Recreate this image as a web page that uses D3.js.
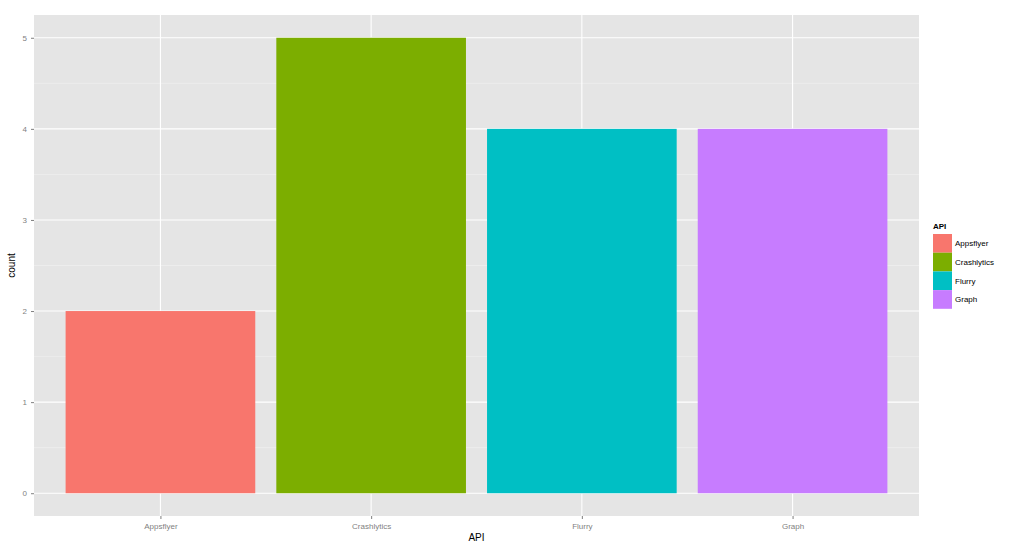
<!DOCTYPE html>
<html><head><meta charset="utf-8">
<script src="https://cdn.jsdelivr.net/npm/d3@7"></script>
<style>body{margin:0;background:#fff}svg{display:block;font-family:"Liberation Sans",Arial,sans-serif}</style>
</head><body>
<svg id="c" width="1024" height="553"></svg>
<script>
const categories = ["Appsflyer","Crashlytics","Flurry","Graph"];
const counts = [2,5,4,4];
const colors = ["#F8766D","#7CAE00","#00BFC4","#C77CFF"];
const yTicks = [0,1,2,3,4,5];
const yMinor = [0.5,1.5,2.5,3.5,4.5];

const svg = d3.select("#c");
const P = {l:34, t:15, r:919, b:516};
const x = d3.scaleLinear().domain([0.4, 4.6]).range([P.l, P.r]);
const y = d3.scaleLinear().domain([-0.25, 5.25]).range([P.b, P.t]);

svg.append("rect").attr("x",P.l).attr("y",P.t).attr("width",P.r-P.l).attr("height",P.b-P.t).attr("fill","#E5E5E5");
const g = svg.append("g");
g.selectAll(".ymin").data(yMinor).join("line").attr("class","ymin").attr("x1",P.l).attr("x2",P.r)
 .attr("y1",d=>y(d)).attr("y2",d=>y(d)).attr("stroke","#F2F2F2").attr("stroke-width",0.6);
g.selectAll(".ymaj").data(yTicks).join("line").attr("class","ymaj").attr("x1",P.l).attr("x2",P.r)
 .attr("y1",d=>y(d)).attr("y2",d=>y(d)).attr("stroke","#fff").attr("stroke-width",1.1);
g.selectAll(".xmaj").data(categories).join("line").attr("class","xmaj").attr("y1",P.t).attr("y2",P.b)
 .attr("x1",(d,i)=>x(i+1)).attr("x2",(d,i)=>x(i+1)).attr("stroke","#fff").attr("stroke-width",1.1);

g.selectAll(".bar").data(categories).join("rect").attr("class","bar")
 .attr("x",(d,i)=>x(i+1-0.45)).attr("width",(d,i)=>x(i+1+0.45)-x(i+1-0.45))
 .attr("y",(d,i)=>y(counts[i])).attr("height",(d,i)=>y(0)-y(counts[i]))
 .attr("fill",(d,i)=>colors[i]);

// axes
const ya = d3.axisLeft(y).tickValues(yTicks).tickSize(3).tickPadding(4).tickFormat(d3.format("d"));
const yg = svg.append("g").attr("transform",`translate(${P.l},0)`).call(ya);
const xa = d3.axisBottom(x).tickValues([1,2,3,4]).tickSize(3).tickPadding(4).tickFormat((d)=>categories[d-1]);
const xg = svg.append("g").attr("transform",`translate(0,${P.b})`).call(xa);
[yg,xg].forEach(a=>{a.select(".domain").remove();
 a.selectAll(".tick line").attr("stroke","#7F7F7F");
 a.selectAll(".tick text").attr("fill","#7F7F7F").style("font-size","8px");});

svg.append("text").attr("x",x(2.5)).attr("y",541).attr("text-anchor","middle").style("font-size","10px").attr("fill","#000").text("API");
svg.append("text").attr("transform",`translate(15,${(P.t+P.b)/2}) rotate(-90)`).attr("text-anchor","middle").style("font-size","10px").attr("fill","#000").text("count");

// legend
const lg = svg.append("g").attr("transform","translate(933,0)");
lg.append("text").attr("x",0).attr("y",229).style("font-size","8px").style("font-weight","bold").text("API");
const kh = 18.7;
lg.selectAll(".k").data(categories).join("rect").attr("class","k").attr("x",0).attr("y",(d,i)=>234+i*kh)
 .attr("width",19).attr("height",kh).attr("fill",(d,i)=>colors[i]);
lg.selectAll(".lt").data(categories).join("text").attr("class","lt").attr("x",22).attr("y",(d,i)=>234+i*kh+kh/2+3)
 .style("font-size","8px").attr("fill","#000").text(d=>d);
</script>
</body></html>
